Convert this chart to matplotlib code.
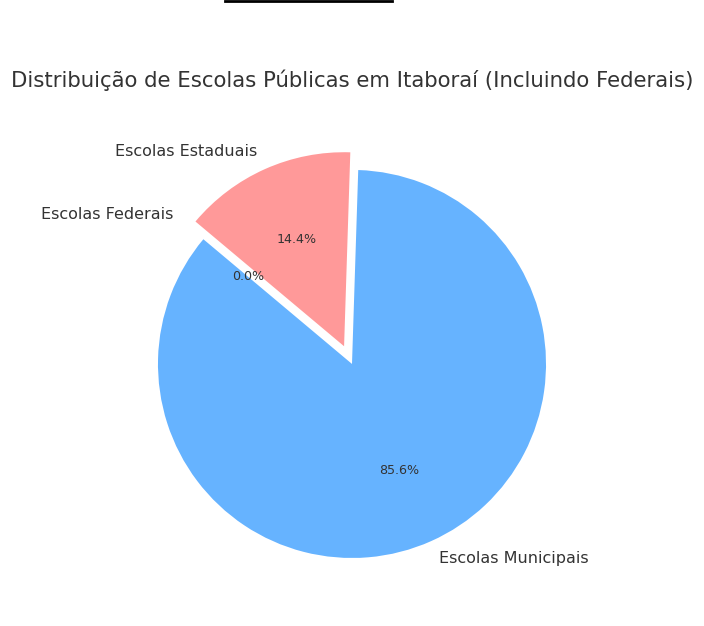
import matplotlib.pyplot as plt
from matplotlib.lines import Line2D

# Escolas públicas em Itaboraí
labels = ['Escolas Municipais', 'Escolas Estaduais', 'Escolas Federais']
sizes = [85.6, 14.4, 0.0]
colors = ['#66b3ff', '#ff9999', '#99ff99']
explode = (0, 0.1, 0.1)

fig = plt.figure(figsize=(7.04, 6.26), dpi=100)
ax = fig.add_axes([0.1555, 0.0311, 0.689, 0.775])

wedges, texts, autotexts = ax.pie(sizes, labels=labels, colors=colors, explode=explode,
                                  autopct='%1.1f%%', startangle=140,
                                  textprops={'color': '#333333'})
for t in texts:
    t.set_fontsize(11.5)
for t in autotexts:
    t.set_fontsize(9.1)
ax.set_xlim(-1.25, 1.25)
ax.set_ylim(-1.25, 1.25)
ax.set_aspect('equal')

fig.text(0.5, 0.872, 'Distribuição de Escolas Públicas em Itaboraí (Incluindo Federais)',
         ha='center', va='center', fontsize=15.3, color='#333333')

# traço preto no topo
fig.add_artist(Line2D([225/704, 392/704], [0.999, 0.999], color='black', lw=2))

fig.savefig('out.png', dpi=100)
